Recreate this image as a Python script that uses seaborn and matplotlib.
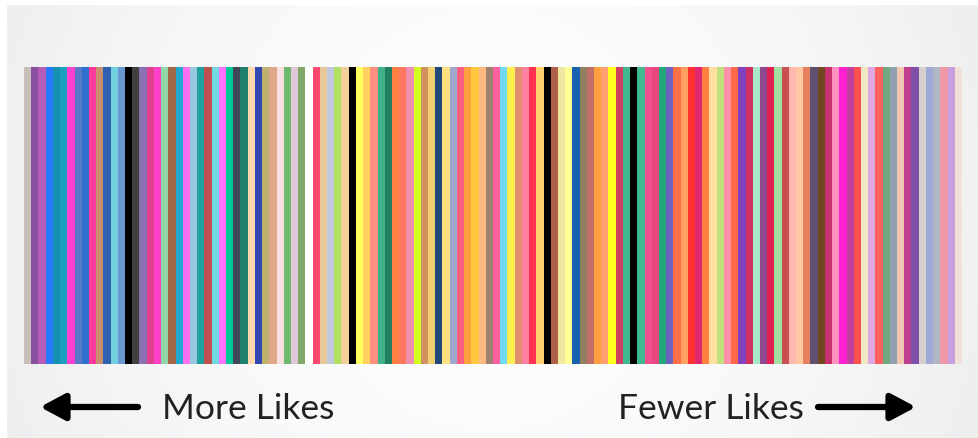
import numpy as np
import pandas as pd
import matplotlib
matplotlib.use("Agg")
import matplotlib.pyplot as plt
import seaborn as sns

# Stripe colours, left (more likes) to right (fewer likes)
STRIPE_COLORS = [
    "#c9bfb9", "#8b4fa0", "#b55bb8", "#2979ff", "#1590b0", "#1ba0c0", "#ff40d0",
    "#5a78c8", "#2e6fd0", "#ff3a9a", "#c89070", "#3060b0", "#70d0e0",
    "#6a98d0", "#000000", "#404040", "#8a70b0", "#e04090", "#ff40c8", "#90d8a8",
    "#a06848", "#20a8d0", "#ff70f0", "#98c8e0", "#20a0a0", "#c05050",
    "#70d8e0", "#ff70ff", "#00c898", "#404858", "#208070", "#ffd8b0", "#3048b0",
    "#c0b070", "#e0a888", "#f8e0e0", "#70b870", "#e0c8d8", "#80a868",
    "#ffffff", "#ff4870", "#e8c898", "#c0c8e0", "#b0e060", "#f0d098", "#000000",
    "#ffff60", "#ffd060", "#ff9080", "#40b088", "#208060", "#ff8040",
    "#ff7860", "#f090b0", "#d0ff20", "#d09060", "#f0d070", "#204878", "#ffe080",
    "#a0a8d0", "#ff6080", "#ffa040", "#ffc840", "#ffb880", "#a08070",
    "#ff60a0", "#70d8f0", "#ffee50", "#e09070", "#ff80a0", "#ff3050", "#ffd070",
    "#000000", "#b06048", "#f0e8a0", "#ffff98", "#1860b0", "#908060",
    "#c07068", "#ffa040", "#ffa070", "#ffff20", "#d04060", "#40b890", "#000000",
    "#40b890", "#f05090", "#e84880", "#20a878", "#7060c0", "#ff7048",
    "#ffa060", "#ff3030", "#e02870", "#ff8040", "#ffe0a0", "#c0e080", "#ff90a8",
    "#ff6848", "#8040c0", "#d03060", "#a8e8c8", "#904890", "#e02050",
    "#a0e0a0", "#c85050", "#ffb8b0", "#ffc8a0", "#e88060", "#605070", "#704820",
    "#c83070", "#ff90c0", "#ff20d0", "#c040a0", "#ff5050", "#f0e8c0",
    "#e0a8e0", "#ff6060", "#70a880", "#90a0b0", "#f0c8b0", "#c04090", "#8050a8",
    "#d8d0d0", "#a0a8d8", "#b0b8c8", "#f098a8", "#c8a0e0", "#f0e0d8",
]
STRIPE_HEIGHT = [1.0] * len(STRIPE_COLORS)
LEFT_LABEL = "More Likes"
RIGHT_LABEL = "Fewer Likes"

W, H = 979, 439
fig = plt.figure(figsize=(W / 100, H / 100), dpi=100)

# soft grey background, lighter in the middle
bg = fig.add_axes([0, 0, 1, 1])
xs = np.linspace(-1, 1, 400)
ys = np.linspace(-1, 1, 200)
gx, gy = np.meshgrid(xs, ys)
shade = 0.935 + 0.055 * np.clip(1 - (gx ** 2 * 0.9 + gy ** 2 * 0.15), 0, 1)
rgb = np.dstack([shade, shade + 0.002, shade + 0.004])
bg.imshow(np.clip(rgb, 0, 1), aspect="auto", extent=[0, 1, 0, 1])
bg.axhspan(1 - 5 / H, 1, color="white")
bg.axvspan(0, 6 / W, color="white")
bg.set_xlim(0, 1)
bg.set_ylim(0, 1)
bg.axis("off")

# stripes
df = pd.DataFrame({"stripe": range(len(STRIPE_COLORS)), "height": STRIPE_HEIGHT})
ax = fig.add_axes([24 / W, (H - 365) / H, 938 / W, 297 / H])
sns.barplot(data=df, x="stripe", y="height", hue="stripe",
            palette=STRIPE_COLORS, saturation=1, width=1.0, linewidth=0,
            legend=False, ax=ax)
ax.set_xlim(-0.5, len(STRIPE_COLORS) - 0.5)
ax.set_ylim(0, 1)
ax.axis("off")

# labels and arrows
ov = fig.add_axes([0, 0, 1, 1], facecolor="none")
ov.set_xlim(0, W)
ov.set_ylim(H, 0)
ov.axis("off")
font = dict(fontsize=25.5, color="#222222", family=["Lato", "DejaVu Sans"],
            va="center")
ov.text(162, 409, LEFT_LABEL, ha="left", **font)
ov.text(804, 409, RIGHT_LABEL, ha="right", **font)
arrow = dict(arrowstyle="-|>,head_length=1.5,head_width=0.8", lw=4.5,
             color="black", shrinkA=0, shrinkB=0)
ov.annotate("", xy=(40, 408), xytext=(138, 408), arrowprops=arrow)
ov.annotate("", xy=(916, 408), xytext=(818, 408), arrowprops=arrow)

fig.savefig("out.png", dpi=100)
